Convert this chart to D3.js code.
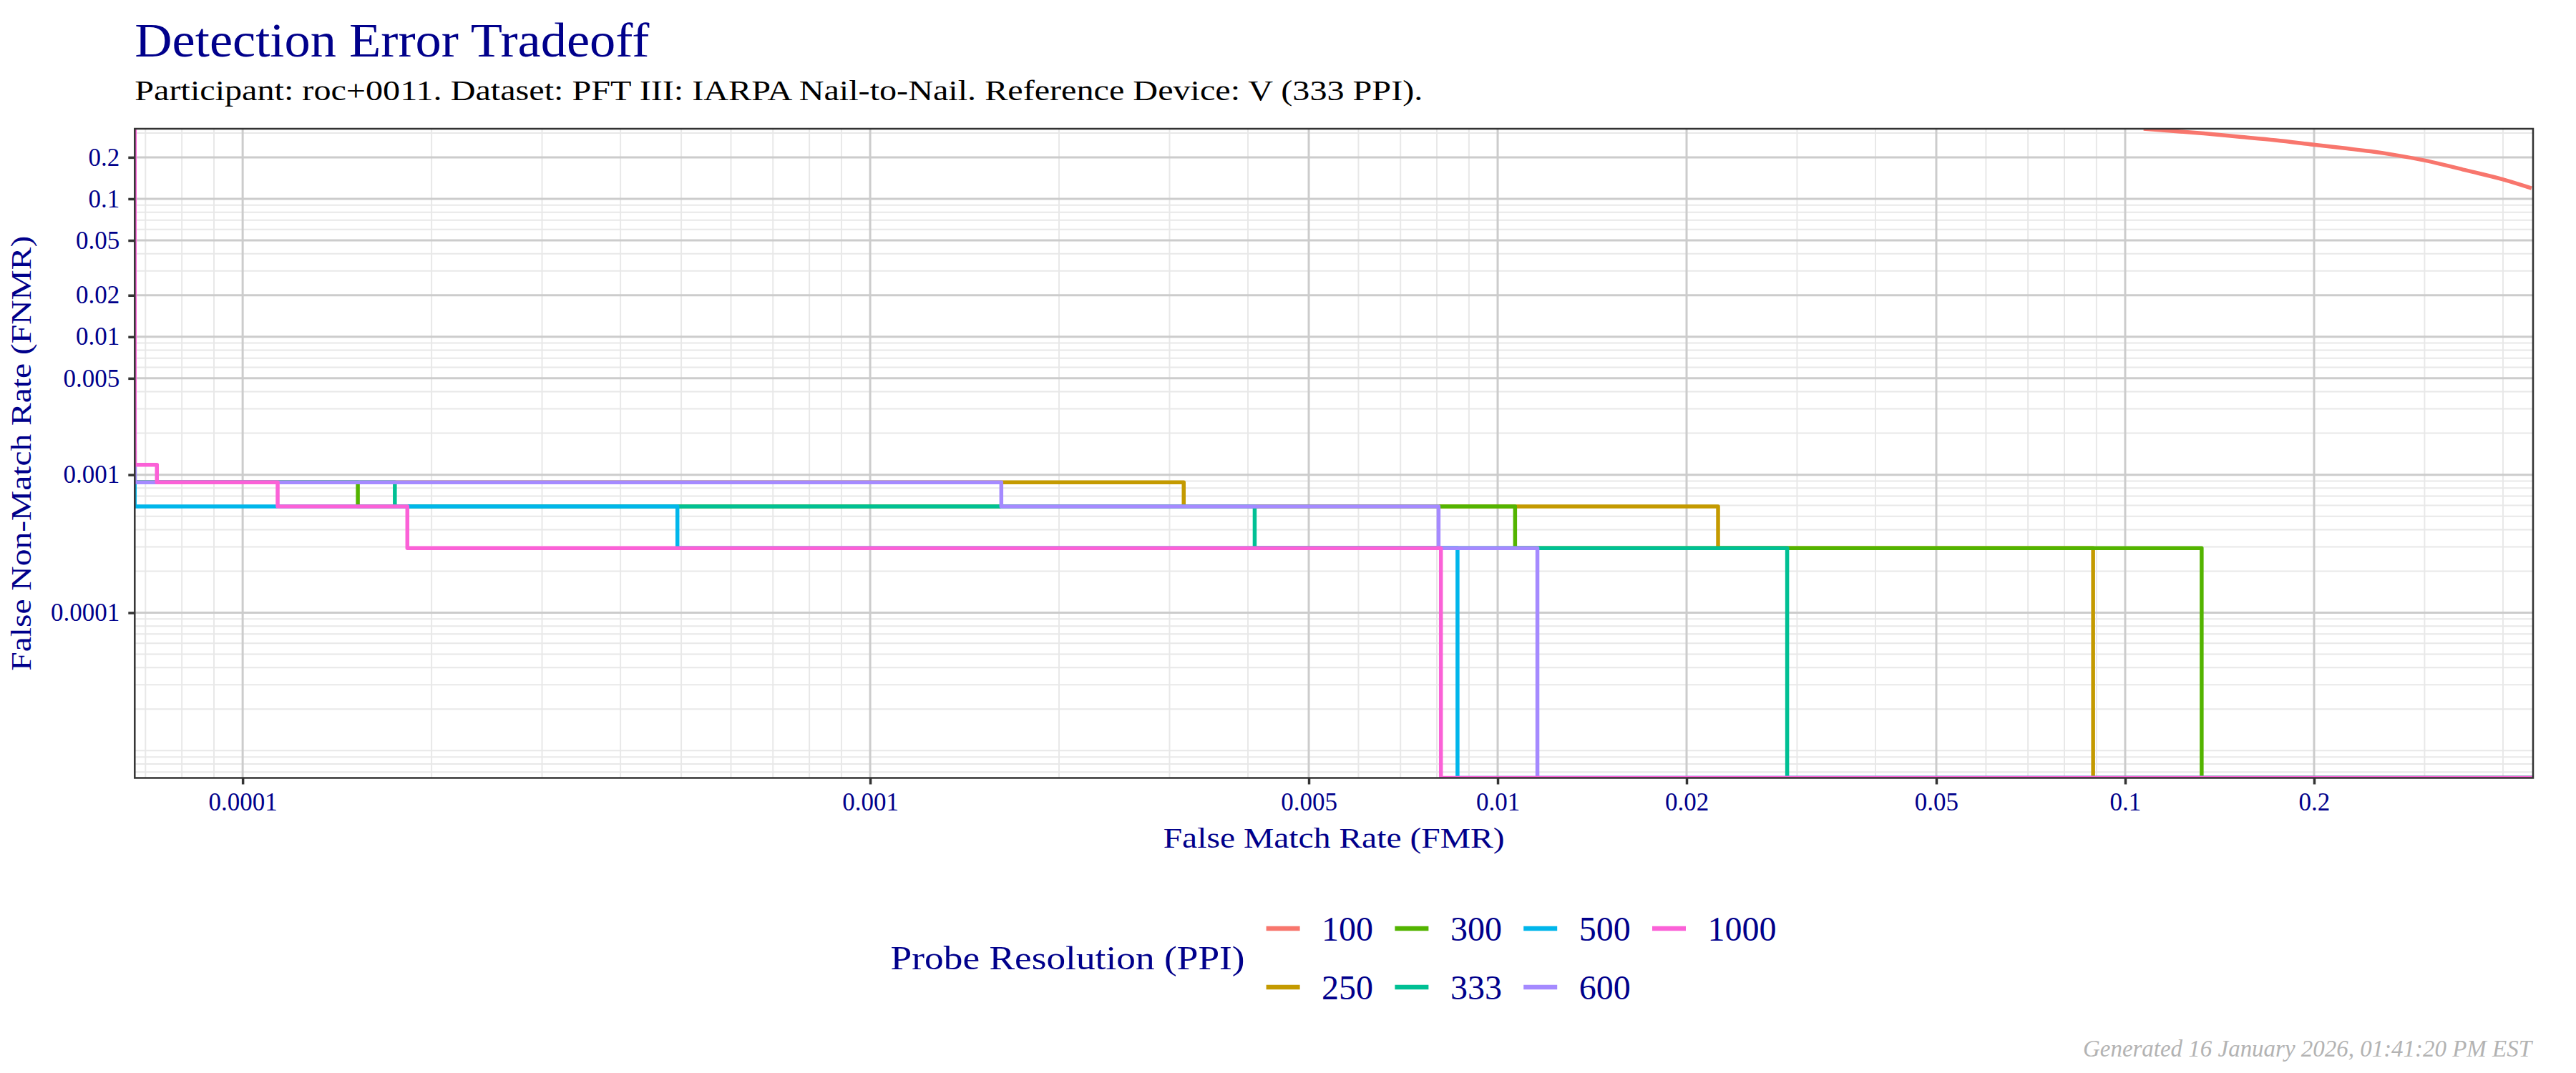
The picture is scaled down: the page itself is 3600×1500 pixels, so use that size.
<!DOCTYPE html>
<html>
<head>
<meta charset="utf-8">
<script src="https://cdn.jsdelivr.net/npm/d3@7"></script>
<style>
  html, body { margin: 0; padding: 0; background: #fff; }
  svg { display: block; font-family: "Liberation Serif", serif; }
</style>
</head>
<body>
<div id="chart"></div>
<script>
// series = probe resolution (PPI)
const ppi = ["100", "250", "300", "333", "500", "600", "1000"];
const colors = ["#F8766D", "#C49A00", "#53B400", "#00C094", "#00B6EB", "#A58AFF", "#FB61D7"];

// 1e-6 = below the plotted FMR range (sits on the left edge), 1 = beyond the right edge
const fmr_100  = [0.107, 0.1335, 0.1522, 0.1736, 0.1997, 0.2257, 0.2461, 0.2688, 0.2997, 0.3201, 0.3497, 0.4001, 0.4443];
const fnmr_100 = [0.325, 0.2976, 0.2816, 0.2662, 0.247, 0.2316, 0.2208, 0.208, 0.19, 0.1776, 0.1608, 0.1382, 0.1193];
const fmr_250  = [1e-6, 1e-6, 0.00316, 0.02245, 0.0889, 1];
const fnmr_250 = [0.0015, 0.00088, 0.000588, 0.000294, 0, 0];
const fmr_300  = [1e-6, 1e-6, 0.0001526, 0.01066, 0.1324, 1];
const fnmr_300 = [0.0017, 0.00088, 0.000588, 0.000294, 0, 0];
const fmr_333  = [1e-6, 1e-6, 0.0001748, 0.0041, 0.02893, 1];
const fnmr_333 = [0.0015, 0.00088, 0.000588, 0.000294, 0, 0];
const fmr_500  = [1e-6, 1e-6, 0.000493, 0.00863, 1];
const fnmr_500 = [0.0034, 0.000588, 0.000294, 0, 0];
const fmr_600  = [1e-6, 1e-6, 0.001618, 0.00805, 0.01157, 1];
const fnmr_600 = [0.0025, 0.00088, 0.000588, 0.000294, 0, 0];
const fmr_1000  = [1e-6, 1e-6, 0.000073, 0.0001137, 0.000183, 0.00812, 1];
const fnmr_1000 = [1, 0.00118, 0.00088, 0.000588, 0.000294, 0, 0];

const xTicks = [0.0001, 0.001, 0.005, 0.01, 0.02, 0.05, 0.1, 0.2];
const yTicks = [0.0001, 0.001, 0.005, 0.01, 0.02, 0.05, 0.1, 0.2];
const xDomain = [6.73e-5, 0.4467];
const yDomain = [6.34e-6, 0.322];

const W = 3600, H = 1500;
const P = { left: 188.3, right: 3540, top: 180, bottom: 1087.5 };
const BLUE = "#00008B";

const allFmr = [fmr_100, fmr_250, fmr_300, fmr_333, fmr_500, fmr_600, fmr_1000];
const allFnmr = [fnmr_100, fnmr_250, fnmr_300, fnmr_333, fnmr_500, fnmr_600, fnmr_1000];
const series = ppi.map((k, i) => ({
  key: k, color: colors[i],
  pts: allFmr[i].map((f, j) => ({ fmr: f, fnmr: allFnmr[i][j] }))
}));

const svg = d3.select("#chart").append("svg").attr("width", W).attr("height", H);
svg.append("rect").attr("width", W).attr("height", H).attr("fill", "#fff");

const x = d3.scaleLog().domain(xDomain).range([P.left, P.right]).clamp(true);
const y = d3.scaleLog().domain(yDomain).range([P.bottom, P.top]).clamp(true);

// minor grid at every n * 10^k inside the domain
function minorTicks(dom, majors) {
  const out = [];
  for (let k = -7; k <= 0; k++) {
    for (let n = 1; n <= 9; n++) {
      const v = +(n * Math.pow(10, k)).toPrecision(6);
      if (v > dom[0] && v < dom[1] && !majors.some((m) => Math.abs(m - v) / v < 1e-6)) out.push(v);
    }
  }
  return out;
}

const grid = svg.append("g");
grid.selectAll(".xminor").data(minorTicks(xDomain, xTicks)).join("line")
  .attr("x1", (d) => x(d)).attr("x2", (d) => x(d)).attr("y1", P.top).attr("y2", P.bottom)
  .attr("stroke", "#e8e8e8").attr("stroke-width", 2);
grid.selectAll(".yminor").data(minorTicks(yDomain, yTicks)).join("line")
  .attr("y1", (d) => y(d)).attr("y2", (d) => y(d)).attr("x1", P.left).attr("x2", P.right)
  .attr("stroke", "#e8e8e8").attr("stroke-width", 2);
grid.selectAll(".xmajor").data(xTicks).join("line")
  .attr("x1", (d) => x(d)).attr("x2", (d) => x(d)).attr("y1", P.top).attr("y2", P.bottom)
  .attr("stroke", "#cccccc").attr("stroke-width", 3);
grid.selectAll(".ymajor").data(yTicks).join("line")
  .attr("y1", (d) => y(d)).attr("y2", (d) => y(d)).attr("x1", P.left).attr("x2", P.right)
  .attr("stroke", "#cccccc").attr("stroke-width", 3);

svg.append("clipPath").attr("id", "panel").append("rect")
  .attr("x", P.left).attr("y", P.top).attr("width", P.right - P.left).attr("height", P.bottom - P.top);

const gLines = svg.append("g").attr("clip-path", "url(#panel)");
series.forEach((s) => {
  const line = d3.line().x((d) => x(d.fmr)).y((d) => y(d.fnmr))
    .curve(s.key === "100" ? d3.curveMonotoneX : d3.curveStepAfter);
  gLines.append("path").datum(s.pts).attr("d", line)
    .attr("fill", "none").attr("stroke", s.color).attr("stroke-width", 5.5)
    .attr("stroke-linejoin", "round").attr("stroke-linecap", "butt");
});

// panel border
svg.append("rect").attr("x", P.left).attr("y", P.top)
  .attr("width", P.right - P.left).attr("height", P.bottom - P.top)
  .attr("fill", "none").attr("stroke", "#333333").attr("stroke-width", 2.5);

// axes
const xAxis = svg.append("g").attr("transform", `translate(0,${P.bottom})`)
  .call(d3.axisBottom(x).tickValues(xTicks).tickFormat(d3.format("")).tickSize(9).tickPadding(12));
const yAxis = svg.append("g").attr("transform", `translate(${P.left},0)`)
  .call(d3.axisLeft(y).tickValues(yTicks).tickFormat(d3.format("")).tickSize(9).tickPadding(12));
[xAxis, yAxis].forEach((g) => {
  g.select(".domain").remove();
  g.selectAll(".tick line").attr("stroke", "#333333").attr("stroke-width", 3.5);
  g.selectAll(".tick text").attr("fill", BLUE)
    .style("font-family", "Liberation Serif, serif").style("font-size", "35px");
});

// titles
svg.append("text").attr("x", P.left).attr("y", 79).attr("fill", BLUE)
  .attr("textLength", 719).attr("lengthAdjust", "spacingAndGlyphs")
  .style("font-size", "68px").text("Detection Error Tradeoff");
svg.append("text").attr("x", P.left).attr("y", 140).attr("fill", "#000")
  .attr("textLength", 1800).attr("lengthAdjust", "spacingAndGlyphs")
  .style("font-size", "41px")
  .text("Participant: roc+0011. Dataset: PFT III: IARPA Nail-to-Nail. Reference Device: V (333 PPI).");

svg.append("text").attr("x", (P.left + P.right) / 2).attr("y", 1185).attr("fill", BLUE)
  .attr("text-anchor", "middle").attr("textLength", 477).attr("lengthAdjust", "spacingAndGlyphs")
  .style("font-size", "39px").text("False Match Rate (FMR)");
svg.append("text").attr("transform", `translate(43,${(P.top + P.bottom) / 2}) rotate(-90)`)
  .attr("fill", BLUE).attr("text-anchor", "middle")
  .attr("textLength", 608).attr("lengthAdjust", "spacingAndGlyphs")
  .style("font-size", "39px").text("False Non-Match Rate (FNMR)");

// legend, filled column by column in two rows
const leg = svg.append("g");
leg.append("text").attr("x", 1244.6).attr("y", 1355).attr("fill", BLUE)
  .attr("textLength", 495).attr("lengthAdjust", "spacingAndGlyphs")
  .style("font-size", "47px").text("Probe Resolution (PPI)");
const rowY = [1298, 1380];
const item = leg.selectAll(".item").data(series).join("g")
  .attr("transform", (d, i) => `translate(${1769.6 + Math.floor(i / 2) * 179.8},${rowY[i % 2]})`);
item.append("line").attr("x1", 0).attr("x2", 47).attr("y1", 0).attr("y2", 0)
  .attr("stroke", (d) => d.color).attr("stroke-width", 6.5);
item.append("text").attr("x", 77.5).attr("y", 17).attr("fill", BLUE)
  .style("font-size", "48px").text((d) => d.key);

svg.append("text").attr("x", 3538).attr("y", 1477).attr("text-anchor", "end")
  .attr("fill", "#b3b3b3").style("font-style", "italic").style("font-size", "33px")
  .attr("textLength", 627).attr("lengthAdjust", "spacingAndGlyphs")
  .text("Generated 16 January 2026, 01:41:20 PM EST");
</script>
</body>
</html>
